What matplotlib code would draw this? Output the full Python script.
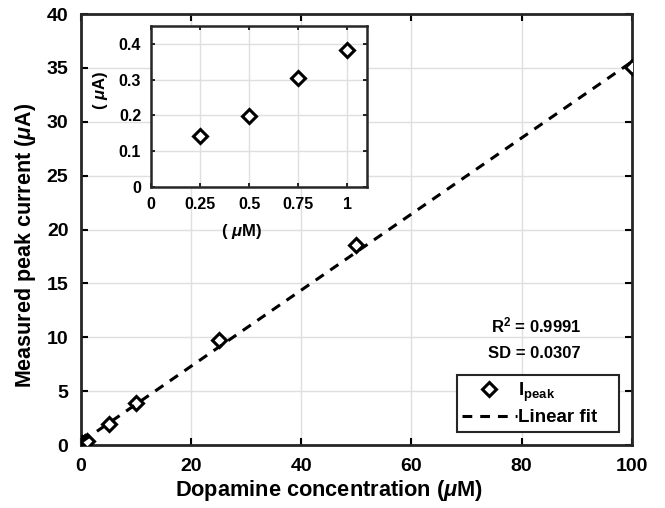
import numpy as np
import matplotlib
matplotlib.use("Agg")
import matplotlib.pyplot as plt

plt.rcParams['font.family'] = ['Liberation Sans', 'DejaVu Sans']
plt.rcParams['font.weight'] = 'bold'
plt.rcParams['mathtext.fontset'] = 'custom'
plt.rcParams['mathtext.rm'] = 'Liberation Sans:bold'
plt.rcParams['mathtext.bf'] = 'Liberation Sans:bold'
plt.rcParams['mathtext.it'] = 'Liberation Sans:italic:bold'

# data
conc = [0.25, 0.5, 0.75, 1, 5, 10, 25, 50, 100]          # uM
peak = [0.141, 0.197, 0.304, 0.383, 1.95, 3.9, 9.75, 18.55, 35.07]  # uA

inset_conc = [0.25, 0.5, 0.75, 1]
inset_peak = [0.141, 0.197, 0.304, 0.383]

r2_text = r'R$^{\mathbf{2}}$ = 0.9991'
sd_text = 'SD = 0.0307'

# linear fit of the data
slope, icpt = np.polyfit(conc, peak, 1)
fit_x = np.array(conc)
fit_y = slope * fit_x + icpt

grid_col = '#dfdfdf'

fig = plt.figure(figsize=(6.65, 5.08), dpi=100)
ax = fig.add_axes([0.1218, 0.124, 0.8282, 0.8484])

ax.plot(conc, peak, 'D', ms=7.5, mfc='white', mec='black', mew=2.2, label=r'I$_{\mathbf{peak}}$', zorder=3)
ax.plot(fit_x, fit_y, '--', color='black', lw=2.2, dashes=(3.2, 2.6), label='Linear fit   ', zorder=4)

ax.set_xlim(0, 100)
ax.set_ylim(0, 40)
ax.set_xticks(np.arange(0, 101, 20))
ax.set_yticks(np.arange(0, 41, 5))
ax.grid(True, color=grid_col, lw=1)
ax.set_axisbelow(True)
ax.tick_params(direction='in', top=True, right=True, length=5, width=1.5, labelsize=14, pad=9)
for s in ax.spines.values():
    s.set_linewidth(2)
    s.set_color('#262626')
ax.set_xlabel(r'Dopamine concentration ($\mu$M)', fontsize=15.7, fontweight='bold')
ax.set_ylabel(r'Measured peak current ($\mu$A)', fontsize=15.5, fontweight='bold')
ax.xaxis.set_label_coords(0.45, -0.076)
ax.yaxis.set_label_coords(-0.078, 0.462)

ax.text(82.6, 11.1, r2_text, fontsize=12, fontweight='bold', ha='center', va='center')
ax.text(82.3, 8.5, sd_text, fontsize=12, fontweight='bold', ha='center', va='center')

leg = ax.legend(loc='lower right', bbox_to_anchor=(0.977, 0.03), fontsize=13.5, frameon=True,
                fancybox=False, edgecolor='#262626', framealpha=1, handlelength=2.9,
                handletextpad=0.1, borderpad=0.3, labelspacing=0.3, borderaxespad=0.0)
leg.get_frame().set_linewidth(1.5)

# inset
ins = fig.add_axes([0.227, 0.632, 0.325, 0.317])
ins.plot(inset_conc, inset_peak, 'D', ms=7.5, mfc='white', mec='black', mew=2.2)
ins.set_xlim(0, 1.1)
ins.set_ylim(0, 0.45)
ins.set_xticks([0, 0.25, 0.5, 0.75, 1])
ins.set_xticklabels(['0', '0.25', '0.5', '0.75', '1'])
ins.set_yticks([0, 0.1, 0.2, 0.3, 0.4])
ins.set_yticklabels(['0', '0.1', '0.2', '0.3', '0.4'])
ins.grid(True, color=grid_col, lw=1)
ins.set_axisbelow(True)
ins.tick_params(direction='in', top=True, right=True, length=3, width=1.2, labelsize=11.5, pad=7)
for s in ins.spines.values():
    s.set_linewidth(1.8)
    s.set_color('#262626')
ins.set_xlabel(r'( $\mu$M)', fontsize=12, fontweight='bold')
ins.set_ylabel(r'( $\mu$A)', fontsize=12, fontweight='bold')
ins.xaxis.set_label_coords(0.42, -0.22)
ins.yaxis.set_label_coords(-0.19, 0.60)

fig.savefig('out.png', dpi=100)
